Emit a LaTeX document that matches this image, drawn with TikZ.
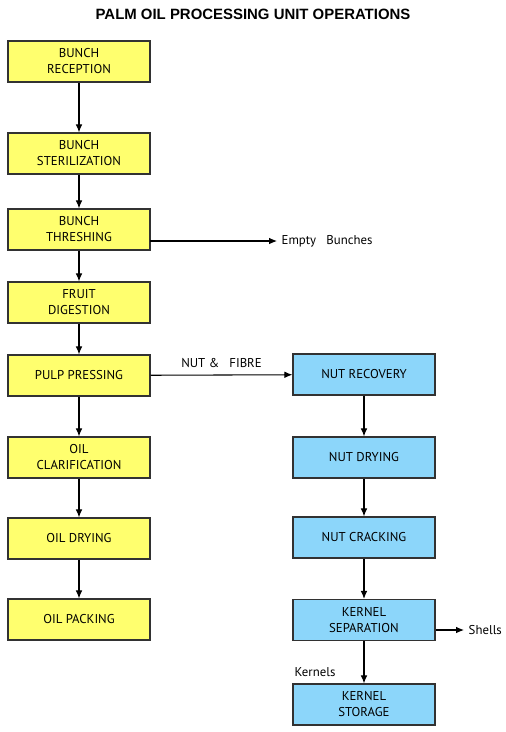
\documentclass[tikz,border=0pt]{standalone}
\usepackage{fontspec}
\setmainfont{PT Sans}
\newfontfamily\titlefont{Liberation Sans}
\usetikzlibrary{arrows.meta}
\definecolor{boxyellow}{RGB}{255,255,110}
\definecolor{boxblue}{RGB}{140,214,250}
\definecolor{boxline}{RGB}{50,50,50}
\begin{document}
\begin{tikzpicture}[x=0.75pt,y=-0.75pt]
		\tikzstyle{every node}+=[font=\fontsize{9.6}{12}\selectfont]
		\tikzstyle{unit}=[draw=boxline,line width=0.9pt,minimum width=106.5pt,minimum height=30.75pt,inner sep=0pt,align=center]
		\tikzstyle{oil}=[unit,fill=boxyellow]
		\tikzstyle{nut}=[unit,fill=boxblue]
		\tikzstyle{flow}=[black,line width=0.8pt,-{Latex[length=6pt,width=5pt]}]
		\useasboundingbox (0,0) rectangle (506,732);
		\node (title) at (253,14) {\titlefont\bfseries\fontsize{11.2}{13}\selectfont PALM OIL PROCESSING UNIT OPERATIONS};
		% oil line
		\node [oil] (rec) at (79,61.5) {BUNCH\\RECEPTION};
		\node [oil] (ster) at (79,153.5) {BUNCH\\STERILIZATION};
		\node [oil] (thr) at (79,229.5) {BUNCH\\THRESHING};
		\node [oil] (dig) at (79,302.5) {FRUIT\\DIGESTION};
		\node [oil] (pulp) at (79,375.5) {PULP PRESSING};
		\node [oil] (clar) at (79,457.5) {OIL\\CLARIFICATION};
		\node [oil] (odry) at (79,538.5) {OIL DRYING};
		\node [oil] (pack) at (79,619.5) {OIL PACKING};
		% nut line
		\node [nut] (nrec) at (364,374.5) {NUT RECOVERY};
		\node [nut] (ndry) at (364,457.5) {NUT DRYING};
		\node [nut] (ncrk) at (364,537.5) {NUT CRACKING};
		\node [nut] (ksep) at (364,620) {KERNEL\\SEPARATION};
		\node [nut] (kst) at (364,704.5) {KERNEL\\STORAGE};
		% side outputs
		\node [anchor=west] (empty) at (277,241) {Empty\ \ \ Bunches};
		\node [anchor=west] (shells) at (464,630) {Shells};
		\node [anchor=west] (kern) at (290,672) {Kernels};
		\coordinate (throut) at (150,241);
		\coordinate (sepout) at (436,630);
		\draw [flow] (rec) -- (ster);
		\draw [flow] (ster) -- (thr);
		\draw [flow] (thr) -- (dig);
		\draw [flow] (dig) -- (pulp);
		\draw [flow] (pulp) -- (clar);
		\draw [flow] (clar) -- (odry);
		\draw [flow] (odry) -- (pack);
		\draw [flow] (throut) -- (empty.west);
		\draw [flow] (pulp) -- node [above,yshift=2pt] {NUT \&\ \ \ FIBRE} (nrec);
		\draw [flow] (nrec) -- (ndry);
		\draw [flow] (ndry) -- (ncrk);
		\draw [flow] (ncrk) -- (ksep);
		\draw [flow] (sepout) -- (shells.west);
		\draw [flow] (ksep) -- (kst);
	\end{tikzpicture}
\end{document}
